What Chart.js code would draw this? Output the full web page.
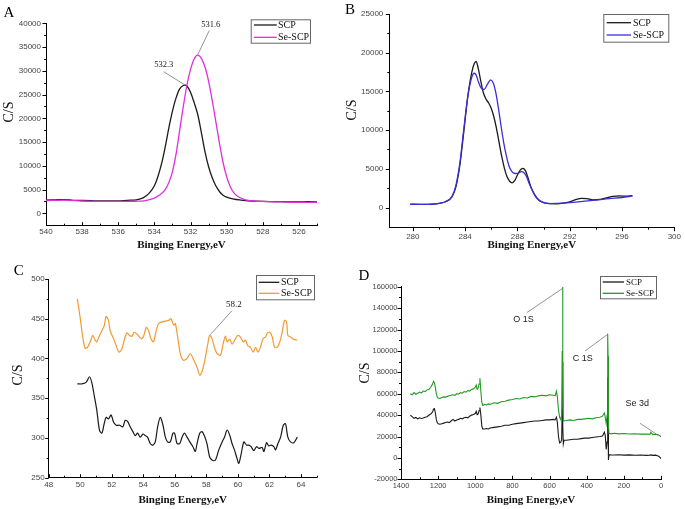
<!DOCTYPE html>
<html>
<head>
<meta charset="utf-8">
<script src="https://cdn.jsdelivr.net/npm/chart.js@4.4.1/dist/chart.umd.min.js"></script>
<style>
  html, body { margin: 0; padding: 0; background: #fff; }
  #wrap { position: relative; width: 685px; height: 509px; overflow: hidden; background: #fff; }
  canvas { position: absolute; }
</style>
</head>
<body>
<div id="wrap">
  <canvas id="cA" width="342" height="252" style="left:0px;top:0px;width:342px;height:252px"></canvas>
  <canvas id="cB" width="343" height="252" style="left:342px;top:0px;width:343px;height:252px"></canvas>
  <canvas id="cC" width="342" height="257" style="left:0px;top:252px;width:342px;height:257px"></canvas>
  <canvas id="cD" width="343" height="257" style="left:342px;top:252px;width:343px;height:257px"></canvas>
</div>
<script>
// ---- panel A : O 1s ----
const aEnergyScp = [540, 539.5, 539, 538.5, 538, 537.5, 537, 536.5, 536, 535.5, 535, 534.6, 534.3, 534, 533.8, 533.6, 533.4, 533.2, 533, 532.8, 532.6, 532.4, 532.3, 532.2, 532, 531.8, 531.6, 531.4, 531.2, 531, 530.8, 530.6, 530.4, 530.2, 530, 529.6, 529.2, 528.8, 528, 527, 526, 525.5, 525];
const aCountsScp = [2800, 2850, 2900, 2750, 2700, 2650, 2600, 2600, 2600, 2750, 2850, 3300, 4200, 5800, 7800, 10500, 14000, 18000, 21500, 24300, 26200, 26900, 27000, 26800, 25500, 23300, 20800, 17000, 13000, 9800, 7500, 5800, 4600, 3800, 3400, 3000, 2800, 2650, 2500, 2450, 2400, 2450, 2400];
const aEnergySe = [540, 539, 538, 537, 536, 535, 534.5, 534, 533.7, 533.4, 533.2, 533, 532.8, 532.6, 532.4, 532.2, 532, 531.8, 531.6, 531.4, 531.2, 531, 530.8, 530.6, 530.4, 530.2, 530, 529.8, 529.6, 529.4, 529, 528.5, 528, 527, 526, 525];
const aCountsSe = [2700, 2800, 2600, 2500, 2500, 2550, 2700, 3200, 3900, 5000, 6500, 8800, 12500, 17500, 22500, 27000, 30300, 32500, 33300, 32600, 30800, 27800, 23800, 19300, 14800, 10700, 7700, 5600, 4300, 3600, 2900, 2600, 2500, 2400, 2300, 2300];
const aTicksX = [540, 539, 538, 537, 536, 535, 534, 533, 532, 531, 530, 529, 528, 527, 526, 525];
const aLabelsX = [540, 538, 536, 534, 532, 530, 528, 526];
const aTicksY = [0, 2500, 5000, 7500, 10000, 12500, 15000, 17500, 20000, 22500, 25000, 27500, 30000, 32500, 35000, 37500, 40000];
const aLabelsY = [0, 5000, 10000, 15000, 20000, 25000, 30000, 35000, 40000];

// ---- panel B : C 1s ----
const bEnergyScp = [279.8, 280.5, 281, 281.5, 282, 282.5, 283, 283.3, 283.6, 283.9, 284.2, 284.5, 284.7, 284.85, 285, 285.2, 285.4, 285.6, 285.8, 286, 286.2, 286.4, 286.6, 286.8, 287, 287.2, 287.4, 287.6, 287.8, 288, 288.2, 288.4, 288.6, 288.8, 289, 289.3, 289.6, 290, 290.5, 291, 291.5, 292, 292.5, 292.9, 293.3, 293.8, 294.3, 294.8, 295.3, 295.8, 296.3, 296.8];
const bCountsScp = [430, 420, 420, 450, 550, 750, 1400, 2700, 5500, 9800, 14300, 17400, 18600, 18850, 18000, 16300, 14800, 14000, 13500, 12800, 11700, 10200, 8400, 6600, 5100, 4000, 3400, 3200, 3500, 4200, 4800, 5050, 4800, 3900, 2800, 1700, 1000, 650, 500, 480, 560, 750, 1050, 1200, 1150, 1000, 1050, 1250, 1450, 1500, 1480, 1550];
const bEnergySe = [279.8, 280.5, 281, 281.5, 282, 282.5, 283, 283.3, 283.6, 283.9, 284.2, 284.5, 284.7, 284.85, 285, 285.2, 285.45, 285.7, 285.95, 286.15, 286.35, 286.55, 286.75, 286.95, 287.15, 287.35, 287.55, 287.8, 288.1, 288.3, 288.5, 288.7, 288.9, 289.2, 289.5, 289.9, 290.5, 291, 292, 293, 294, 295, 296, 296.8];
const bCountsSe = [400, 400, 410, 440, 540, 750, 1450, 2900, 5800, 10200, 14300, 16800, 17350, 17100, 16300, 15500, 15250, 15900, 16500, 16100, 14800, 12800, 10500, 8400, 6700, 5400, 4700, 4400, 4450, 4650, 4500, 4000, 3100, 2000, 1200, 700, 520, 540, 640, 800, 950, 1150, 1300, 1500];
const bTicksX = [280, 282, 284, 286, 288, 290, 292, 294, 296, 298, 300];
const bLabelsX = [280, 284, 288, 292, 296, 300];
const bTicksY = [0, 2500, 5000, 7500, 10000, 12500, 15000, 17500, 20000, 22500, 25000];
const bLabelsY = [0, 5000, 10000, 15000, 20000, 25000];

// ---- panel C : Se 3d ----
const cEnergyScp = [49.82, 50.1, 50.37, 50.59, 50.73, 50.9, 51.05, 51.22, 51.37, 51.52, 51.64, 51.79, 51.96, 52.11, 52.28, 52.49, 52.7, 52.85, 53.0, 53.17, 53.34, 53.49, 53.64, 53.81, 53.98, 54.12, 54.27, 54.44, 54.61, 54.76, 54.91, 55.08, 55.25, 55.4, 55.54, 55.71, 55.88, 55.99, 56.14, 56.31, 56.46, 56.61, 56.78, 56.95, 57.15, 57.3, 57.41, 57.58, 57.73, 57.87, 58.04, 58.21, 58.38, 58.57, 58.79, 59.0, 59.15, 59.32, 59.49, 59.63, 59.78, 59.95, 60.06, 60.21, 60.38, 60.55, 60.69, 60.84, 61.01, 61.18, 61.33, 61.54, 61.65, 61.82, 61.96, 62.11, 62.28, 62.39, 62.54, 62.71, 62.88, 63.02, 63.17, 63.34, 63.55, 63.77];
const cCountsScp = [368, 368, 370, 377, 370, 352, 335, 310, 306, 318, 326, 324, 329, 320, 316, 316, 314, 322, 321, 314, 308, 303, 306, 301, 305, 303, 301, 293, 291, 295, 314, 326, 316, 301, 295, 295, 306, 306, 293, 293, 301, 306, 301, 295, 289, 283, 293, 306, 308, 303, 293, 276, 272, 272, 285, 295, 301, 310, 303, 293, 285, 274, 268, 280, 295, 291, 291, 289, 284, 289, 287, 288, 283, 294, 290, 291, 289, 285, 293, 301, 316, 318, 301, 295, 294, 301];
const cEnergySe = [49.82, 49.99, 50.16, 50.31, 50.46, 50.67, 50.8, 50.95, 51.05, 51.22, 51.37, 51.52, 51.64, 51.79, 51.9, 52.11, 52.32, 52.45, 52.64, 52.79, 52.96, 53.13, 53.28, 53.42, 53.59, 53.81, 53.91, 54.02, 54.19, 54.34, 54.48, 54.65, 54.82, 54.97, 55.18, 55.39, 55.61, 55.76, 55.93, 56.03, 56.18, 56.35, 56.52, 56.77, 56.98, 57.2, 57.41, 57.58, 57.75, 57.94, 58.09, 58.21, 58.36, 58.51, 58.68, 58.89, 59.06, 59.21, 59.32, 59.49, 59.63, 59.85, 60.0, 60.16, 60.33, 60.48, 60.63, 60.8, 60.97, 61.12, 61.27, 61.43, 61.6, 61.75, 61.86, 62.03, 62.18, 62.33, 62.49, 62.66, 62.81, 62.96, 63.09, 63.17, 63.34, 63.55, 63.77];
const cCountsSe = [475, 452, 427, 413, 414, 423, 429, 423, 421, 429, 435, 441, 453, 448, 435, 425, 414, 408, 412, 423, 432, 429, 428, 433, 431, 426, 425, 428, 439, 435, 425, 421, 435, 444, 446, 447, 448, 450, 442, 444, 427, 406, 398, 400, 406, 398, 389, 379, 385, 402, 418, 429, 425, 414, 406, 404, 418, 428, 421, 424, 418, 425, 429, 427, 421, 423, 416, 414, 408, 414, 408, 414, 425, 427, 432, 433, 427, 414, 414, 421, 433, 448, 446, 429, 427, 424, 423];
const cTicksX = [48, 49, 50, 51, 52, 53, 54, 55, 56, 57, 58, 59, 60, 61, 62, 63, 64, 65];
const cLabelsX = [48, 50, 52, 54, 56, 58, 60, 62, 64];
const cTicksY = [250, 275, 300, 325, 350, 375, 400, 425, 450, 475, 500];
const cLabelsY = [250, 300, 350, 400, 450, 500];

// ---- panel D : survey ----
const dEnergy = [1350, 1340, 1330, 1320, 1310, 1300, 1290, 1280, 1270, 1260, 1250, 1240, 1230, 1225, 1220, 1215, 1210, 1205, 1200, 1190, 1180, 1170, 1160, 1150, 1140, 1130, 1120, 1110, 1100, 1090, 1080, 1070, 1060, 1050, 1040, 1030, 1020, 1010, 1000, 995, 990, 985, 980, 975, 970, 965, 960, 950, 940, 930, 920, 900, 880, 860, 840, 820, 800, 780, 760, 740, 720, 700, 680, 660, 640, 620, 600, 580, 570, 563, 558, 552, 546, 540, 535, 532, 530, 528, 526, 522, 510, 490, 470, 450, 430, 410, 390, 370, 350, 330, 315, 305, 300, 295, 290, 287, 285, 283, 280, 270, 250, 230, 200, 170, 140, 110, 80, 60, 55, 45, 30, 15, 5, 0];
const dCountsScp = [40000, 38500, 37000, 37800, 36500, 37500, 36800, 37200, 38000, 38500, 39800, 41000, 43000, 45500, 46000, 42000, 36000, 33000, 32000, 31500, 32000, 32500, 33000, 33500, 33000, 34500, 36000, 34500, 35500, 36000, 37000, 36500, 37500, 38000, 37500, 39000, 40000, 40500, 41500, 43500, 40500, 41000, 44000, 47000, 40000, 30000, 27000, 27000, 27500, 27000, 28000, 28500, 29000, 29500, 30500, 30500, 31500, 32000, 32500, 33000, 33500, 34000, 34500, 34500, 35000, 35500, 35500, 36000, 35500, 38000, 33000, 20000, 14000, 14500, 17000, 45000, 90000, 30000, 13000, 16500, 16500, 17000, 17500, 17500, 18000, 18500, 18500, 19000, 19500, 20000, 20500, 24000, 21000, 8000, 15000, 75000, 30000, -2000, 3000, 2800, 2700, 3000, 2600, 2800, 2500, 2700, 2400, 2600, 2800, 2400, 2600, 1800, 500, -800];
const dCountsSe = [60000, 59000, 61000, 59500, 60500, 61500, 60800, 62500, 62000, 63500, 64000, 66000, 69000, 71500, 70000, 66000, 60000, 57000, 56000, 55500, 56500, 57000, 56800, 57500, 58000, 58500, 59000, 58500, 60000, 59500, 61000, 60500, 62000, 61500, 63000, 62500, 64000, 64500, 66000, 68000, 64000, 65000, 69000, 74500, 62000, 52000, 49000, 50000, 49500, 50500, 50000, 51500, 51000, 52500, 53000, 54000, 54500, 55500, 55000, 56500, 56000, 57500, 57000, 58000, 58500, 58000, 59000, 58500, 58000, 62500, 57000, 45000, 38000, 36000, 40000, 100000, 160000, 90000, 35500, 34500, 35000, 35500, 35000, 36000, 36000, 36500, 37000, 36500, 37500, 38000, 39000, 42000, 38000, 32000, 40000, 116000, 95000, 30000, 23000, 22500, 23000, 22500, 22800, 22300, 22600, 22200, 22400, 22000, 24000, 22000, 22000, 21500, 20500, 19800];
const dTicksX = [0, 100, 200, 300, 400, 500, 600, 700, 800, 900, 1000, 1100, 1200, 1300, 1400];
const dLabelsX = [0, 200, 400, 600, 800, 1000, 1200, 1400];
const dTicksY = [-20000, -10000, 0, 10000, 20000, 30000, 40000, 50000, 60000, 70000, 80000, 90000, 100000, 110000, 120000, 130000, 140000, 150000, 160000];
const dLabelsY = [-20000, 0, 20000, 40000, 60000, 80000, 100000, 120000, 140000, 160000];

const seriesNames = ['SCP', 'Se-SCP'];

const ptsOf = (xs, ys) => xs.map((x, i) => ({x: x, y: ys[i]}));

// letters, y titles, legend boxes, peak notes and tick marks
const decor = {
  id: 'decor',
  afterDraw(chart, args, o) {
    const ctx = chart.ctx;
    const xs = chart.scales.x, ys = chart.scales.y;
    ctx.save();
    ctx.strokeStyle = '#000';
    ctx.lineWidth = 1;
    xs.ticks.forEach(t => {
      const p = Math.round(xs.getPixelForValue(t.value)) + 0.5;
      const len = t.label !== '' ? 3.5 : 2;
      ctx.beginPath();
      ctx.moveTo(p, xs.top);
      ctx.lineTo(p, xs.top + o.xTickDir * len);
      ctx.stroke();
    });
    ys.ticks.forEach(t => {
      const p = Math.round(ys.getPixelForValue(t.value)) + 0.5;
      const len = t.label !== '' ? 3.5 : 2;
      ctx.beginPath();
      ctx.moveTo(ys.right, p);
      ctx.lineTo(ys.right - len, p);
      ctx.stroke();
    });

    ctx.fillStyle = '#000';
    ctx.textAlign = 'center';
    ctx.textBaseline = 'middle';

    // y axis title
    ctx.save();
    ctx.font = '14px "Liberation Serif"';
    ctx.fillStyle = '#111';
    ctx.translate(o.titleX, o.titleY);
    ctx.rotate(-Math.PI / 2);
    ctx.fillText('C/S', 0, 0);
    ctx.restore();

    // panel letter
    ctx.font = '15px "Liberation Serif"';
    ctx.fillText(o.letter, o.letterX, o.letterY);

    // peak notes
    ctx.font = o.noteFont;
    o.notes.forEach(n => {
      ctx.strokeStyle = '#777';
      ctx.lineWidth = 0.8;
      ctx.beginPath();
      ctx.moveTo(xs.getPixelForValue(n.from[0]), ys.getPixelForValue(n.from[1]));
      ctx.lineTo(xs.getPixelForValue(n.to[0]), ys.getPixelForValue(n.to[1]));
      ctx.stroke();
      ctx.fillStyle = '#222';
      ctx.fillText(n.text, xs.getPixelForValue(n.at[0]), ys.getPixelForValue(n.at[1]));
    });

    // legend
    const L = o.legend;
    ctx.strokeStyle = '#666';
    ctx.lineWidth = 1;
    ctx.strokeRect(L.x + 0.5, L.y + 0.5, L.w, L.h);
    ctx.textAlign = 'left';
    ctx.font = L.font;
    chart.data.datasets.forEach((ds, i) => {
      ctx.strokeStyle = ds.borderColor;
      ctx.lineWidth = 1.3;
      ctx.beginPath();
      ctx.moveTo(L.x1, L.rows[i]);
      ctx.lineTo(L.x2, L.rows[i]);
      ctx.stroke();
      ctx.fillStyle = '#111';
      ctx.fillText(ds.label, L.tx, L.rows[i] + 0.5);
    });
    ctx.restore();
  }
};

function axisX(c) {
  return {
    type: 'linear', min: c.min, max: c.max, reverse: !!c.reverse,
    border: {color: '#000', width: 1},
    grid: {display: false, drawTicks: false},
    afterBuildTicks: s => { s.ticks = c.ticks.map(v => ({value: v})); },
    afterFit: s => { s.height = c.h; },
    ticks: {
      autoSkip: false, maxRotation: 0, padding: c.pad, color: '#444',
      font: {family: 'Liberation Sans', size: c.fs},
      callback: v => c.labels.includes(v) ? String(v) : ''
    },
    title: {
      display: true, text: 'Binging Energy,eV', color: '#111',
      font: {family: 'Liberation Serif', size: 11, weight: 'bold'},
      padding: {top: 0, bottom: c.titlePad}
    }
  };
}

function axisY(c) {
  return {
    type: 'linear', min: c.min, max: c.max,
    border: {color: '#000', width: 1},
    grid: {display: false, drawTicks: false},
    afterBuildTicks: s => { s.ticks = c.ticks.map(v => ({value: v})); },
    afterFit: s => { s.width = c.w; },
    ticks: {
      autoSkip: false, padding: c.pad, color: '#444',
      font: {family: 'Liberation Sans', size: c.fs},
      callback: v => c.labels.includes(v) ? String(v) : ''
    },
    title: {display: false}
  };
}

function panel(id, p) {
  return new Chart(document.getElementById(id), {
    type: 'line',
    data: {
      datasets: [
        {label: seriesNames[0], data: ptsOf(p.scpX, p.scpY), borderColor: '#1a1a1a', borderWidth: p.lw,
         pointRadius: 0, tension: p.tension, cubicInterpolationMode: p.mode, order: 2},
        {label: seriesNames[1], data: ptsOf(p.seX, p.seY), borderColor: p.seColor, borderWidth: p.lw,
         pointRadius: 0, tension: p.tension, cubicInterpolationMode: p.mode, order: 1}
      ]
    },
    options: {
      responsive: false, animation: false, events: [],
      layout: {padding: {top: p.padTop, right: p.padRight, left: 0, bottom: 0}},
      plugins: {legend: {display: false}, tooltip: {enabled: false}, decor: p.decor},
      scales: {x: axisX(p.x), y: axisY(p.y)}
    },
    plugins: [decor]
  });
}

panel('cA', {
  scpX: aEnergyScp, scpY: aCountsScp, seX: aEnergySe, seY: aCountsSe,
  seColor: '#e02ee0', lw: 1.3, tension: 0.4, mode: 'monotone',
  padTop: 23.3, padRight: 25,
  x: {min: 525, max: 540, reverse: true, ticks: aTicksX, labels: aLabelsX, h: 26.3, pad: 1, fs: 8, titlePad: 0},
  y: {min: -2600, max: 40000, ticks: aTicksY, labels: aLabelsY, w: 46, pad: 5, fs: 8},
  decor: {
    letter: 'A', letterX: 9, letterY: 13, xTickDir: -1, titleX: 9, titleY: 112,
    noteFont: '8.5px "Liberation Serif"',
    notes: [
      {text: '532.3', at: [533.48, 31220], from: [533.48, 29800], to: [532.3, 27000]},
      {text: '531.6', at: [530.88, 39640], from: [530.97, 38440], to: [531.6, 33400]}
    ],
    legend: {x: 250.7, y: 19.3, w: 59.3, h: 23.4, rows: [25, 37.3], x1: 254, x2: 276.7, tx: 278, font: '10px "Liberation Serif"'}
  }
});

panel('cB', {
  scpX: bEnergyScp, scpY: bCountsScp, seX: bEnergySe, seY: bCountsSe,
  seColor: '#3a2fd8', lw: 1.3, tension: 0.4, mode: 'monotone',
  padTop: 14, padRight: 6,
  x: {min: 278.2, max: 300, ticks: bTicksX, labels: bLabelsX, h: 24.3, pad: 4, fs: 8, titlePad: 0},
  y: {min: -2600, max: 25000, ticks: bTicksY, labels: bLabelsY, w: 47.3, pad: 6, fs: 8},
  decor: {
    letter: 'B', letterX: 8, letterY: 10, xTickDir: 1, titleX: 10, titleY: 110,
    noteFont: '8.5px "Liberation Serif"', notes: [],
    legend: {x: 261.3, y: 14, w: 65, h: 27.7, rows: [22.7, 35], x1: 264.7, x2: 289, tx: 291, font: '10px "Liberation Serif"'}
  }
});

panel('cC', {
  scpX: cEnergyScp, scpY: cCountsScp, seX: cEnergySe, seY: cCountsSe,
  seColor: '#f39a30', lw: 1.2, tension: 0.3, mode: 'default',
  padTop: 27, padRight: 25.3,
  x: {min: 48, max: 65, ticks: cTicksX, labels: cLabelsX, h: 31.3, pad: 2, fs: 8, titlePad: 2},
  y: {min: 250, max: 500, ticks: cTicksY, labels: cLabelsY, w: 48.7, pad: 4, fs: 8},
  decor: {
    letter: 'C', letterX: 18.7, letterY: 19, xTickDir: -1, titleX: 18.3, titleY: 123,
    noteFont: '9px "Liberation Serif"',
    notes: [
      {text: '58.2', at: [59.74, 467.3], from: [59.63, 460.1], to: [58.25, 430]}
    ],
    legend: {x: 256, y: 23, w: 58, h: 24.3, rows: [30.3, 41.3], x1: 258.7, x2: 279.3, tx: 281, font: '10px "Liberation Serif"'}
  }
});

panel('cD', {
  scpX: dEnergy, scpY: dCountsScp, seX: dEnergy, seY: dCountsSe,
  seColor: '#229922', lw: 1.1, tension: 0, mode: 'default',
  padTop: 34.7, padRight: 24,
  x: {min: 0, max: 1400, reverse: true, ticks: dTicksX, labels: dLabelsX, h: 29.7, pad: 2, fs: 7.5, titlePad: 2},
  y: {min: -20000, max: 160000, ticks: dTicksY, labels: dLabelsY, w: 59, pad: 3.5, fs: 7.5},
  decor: {
    letter: 'D', letterX: 22, letterY: 24, xTickDir: -1, titleX: 23, titleY: 121,
    noteFont: '9px "Liberation Sans"',
    notes: [
      {text: 'O 1S', at: [741, 129530], from: [723, 135700], to: [529, 158500]},
      {text: 'C 1S', at: [421.6, 93080], from: [409, 99900], to: [287, 115500]},
      {text: 'Se 3d', at: [127.6, 51030], from: [113, 32330], to: [23, 22050]}
    ],
    legend: {x: 258, y: 24, w: 56, h: 22.3, rows: [30, 41.3], x1: 260.7, x2: 282, tx: 284, font: '9px "Liberation Serif"'}
  }
});
</script>
</body>
</html>
